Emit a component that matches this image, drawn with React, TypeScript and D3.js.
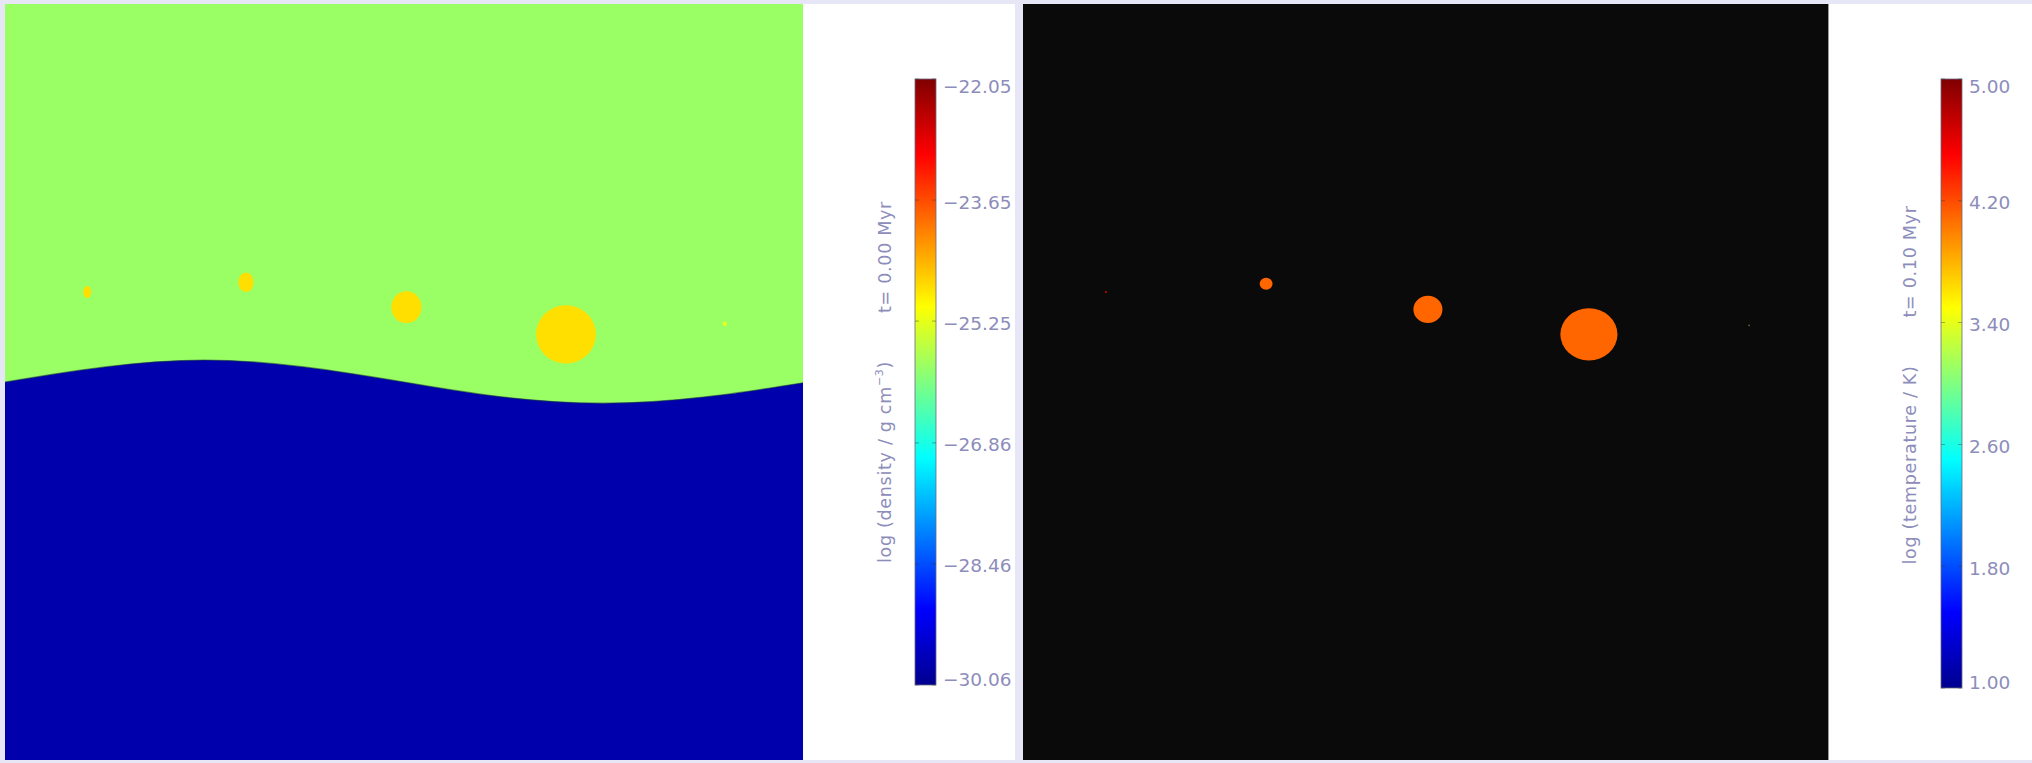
import * as d3 from "d3";

const W = 2032;
const H = 763;

// jet colour table used by both colour bars
const jetStops = [0, 0.125, 0.375, 0.625, 0.875, 1];
const jetColors = ["#00008f", "#0000ff", "#00ffff", "#ffff00", "#ff0000", "#800000"];

// density panel: boundary between the two layers (x in % of box, y in % of box height, from bottom)
const interfaceX = [0, 12.5, 25, 37.5, 50, 62.5, 75, 87.5, 100];
const interfaceY = [50.0, 52.0, 52.9, 52.0, 50.0, 48.0, 47.2, 48.0, 49.9];

// log density values
const densUpper = -25.85;
const densLower = -29.8;
const densRange = [-30.06, -22.05];
const densTicks = [-30.06, -28.46, -26.86, -25.25, -23.65, -22.05];

// clumps in the density map
const clumpX = [10.3, 30.2, 50.3, 70.3, 90.2];
const clumpY = [61.9, 63.2, 59.9, 56.3, 57.7];
const clumpRx = [0.5, 0.95, 1.9, 3.75, 0.25];
const clumpRy = [0.8, 1.3, 2.1, 3.85, 0.3];
const clumpDens = [-24.8, -24.8, -24.8, -24.8, -25.2];

// temperature panel
const tempRange = [1.0, 5.0];
const tempTicks = [1.0, 1.8, 2.6, 3.4, 4.2, 5.0];
const hotX = [10.3, 30.2, 50.3, 70.3, 90.2];
const hotY = [61.9, 63.0, 59.6, 56.3, 57.5];
const hotRx = [0.13, 0.8, 1.8, 3.55, 0.1];
const hotRy = [0.15, 0.8, 1.8, 3.45, 0.12];
const hotTemp = [4.7, 4.1, 4.1, 4.1, 3.1];

const jet = d3.scaleLinear<string>().domain(jetStops).range(jetColors).interpolate(d3.interpolateRgb);

const labelColor = "#8d8dbb";
const frameColor = "#e6e6f7";

function ColorBar({ x, top, bottom, domain, ticks, labelLeft, labelRight, id, labelX, labelY }) {
  const y = d3.scaleLinear().domain(domain).range([bottom, top]);
  const stops = d3.range(0, 1.0001, 0.025);
  const fmt = (v: number) => (v < 0 ? "\u2212" : "") + Math.abs(v).toFixed(2);
  const bw = 21;
  return (
    <g>
      <defs>
        <linearGradient id={id} x1="0" y1="1" x2="0" y2="0">
          {stops.map((t) => (
            <stop key={t} offset={t} stopColor={jet(t)} />
          ))}
        </linearGradient>
      </defs>
      <rect x={x} y={top} width={bw} height={bottom - top} fill={`url(#${id})`} stroke="#6a6a80" strokeWidth={0.8} />
      {ticks.map((v, i) => {
        const ty = y(v);
        const dy = i === 0 ? -6 : i === ticks.length - 1 ? 7 : 2;
        return (
          <g key={v}>
            <line x1={x} x2={x + 4} y1={ty} y2={ty} stroke="#333" strokeWidth={0.7} opacity={0.6} />
            <line x1={x + bw - 4} x2={x + bw} y1={ty} y2={ty} stroke="#333" strokeWidth={0.7} opacity={0.6} />
            <text
              x={x + bw + 7}
              y={ty + dy}
              dominantBaseline="central"
              fontFamily="DejaVu Sans"
              fontSize={18.5}
              fill={labelColor}
            >
              {fmt(v)}
            </text>
          </g>
        );
      })}
      <text
        transform={`translate(${labelX},${labelY}) rotate(-90)`}
        textAnchor="middle"
        dominantBaseline="central"
        fontFamily="DejaVu Sans"
        fontSize={17.5}
        letterSpacing={0.7}
        fill={labelColor}
      >
        {labelLeft}
        <tspan dx={48}>{labelRight}</tspan>
      </text>
    </g>
  );
}

export default function App() {
  // density panel
  const dx0 = 5, dx1 = 803, top = 4, bot = 760;
  const xD = d3.scaleLinear().domain([0, 100]).range([dx0, dx1]);
  const yD = d3.scaleLinear().domain([0, 100]).range([bot, top]);
  const dNorm = d3.scaleLinear().domain(densRange).range([0, 1]).clamp(true);
  const pts = interfaceX.map((v, i) => [v, interfaceY[i]] as [number, number]);
  const lowerArea = d3
    .area<[number, number]>()
    .x((d) => xD(d[0]))
    .y0(bot)
    .y1((d) => yD(d[1]))
    .curve(d3.curveNatural);
  const edge = d3
    .line<[number, number]>()
    .x((d) => xD(d[0]))
    .y((d) => yD(d[1]))
    .curve(d3.curveNatural);

  // temperature panel
  const tx0 = 1023, tx1 = 1828;
  const xT = d3.scaleLinear().domain([0, 100]).range([tx0, tx1]);
  const yT = d3.scaleLinear().domain([0, 100]).range([bot, top]);
  const tNorm = d3.scaleLinear().domain(tempRange).range([0, 1]).clamp(true);

  return (
    <svg width={W} height={H} style={{ position: "absolute", left: 0, top: 0 }}>
      <rect width={W} height={H} fill="#ffffff" />
      {/* frame */}
      <rect x={0} y={0} width={W} height={top} fill={frameColor} />
      <rect x={0} y={bot} width={W} height={H - bot} fill={frameColor} />
      <rect x={0} y={0} width={dx0} height={H} fill={frameColor} />
      <rect x={1015} y={0} width={tx0 - 1015} height={H} fill={frameColor} />

      {/* density map */}
      <rect x={dx0} y={top} width={dx1 - dx0} height={bot - top} fill={jet(dNorm(densUpper))} />
      <path d={lowerArea(pts)!} fill={jet(dNorm(densLower))} />
      <path d={edge(pts)!} fill="none" stroke="#1d3a3a" strokeWidth={1.2} opacity={0.55} />
      {clumpX.map((cx, i) => (
        <ellipse
          key={i}
          cx={xD(cx)}
          cy={yD(clumpY[i])}
          rx={xD(clumpRx[i]) - xD(0)}
          ry={yD(0) - yD(clumpRy[i])}
          fill={jet(dNorm(clumpDens[i]))}
        />
      ))}

      <ColorBar
        id="densbar"
        x={915}
        top={79}
        bottom={685}
        domain={densRange}
        ticks={densTicks}
        labelX={885}
        labelY={382}
        labelLeft={
          <>
            log (density / g cm<tspan dy={-6} fontSize={11}>{"\u22123"}</tspan>
            <tspan dy={6}>)</tspan>
          </>
        }
        labelRight="t= 0.00 Myr"
      />

      {/* temperature map */}
      <rect x={tx0} y={top} width={tx1 - tx0} height={bot - top} fill="#0a0a0a" />
      <line x1={tx1 + 0.5} x2={tx1 + 0.5} y1={top} y2={bot} stroke="#9a9a9a" strokeWidth={1} />
      {hotX.map((cx, i) => (
        <ellipse
          key={i}
          cx={xT(cx)}
          cy={yT(hotY[i])}
          rx={xT(hotRx[i]) - xT(0)}
          ry={yT(0) - yT(hotRy[i])}
          fill={jet(tNorm(hotTemp[i]))}
          opacity={i === 4 ? 0.5 : 1}
        />
      ))}

      <ColorBar
        id="tempbar"
        x={1941}
        top={79}
        bottom={688}
        domain={tempRange}
        ticks={tempTicks}
        labelX={1910}
        labelY={385}
        labelLeft="log (temperature / K)"
        labelRight="t= 0.10 Myr"
      />
    </svg>
  );
}
